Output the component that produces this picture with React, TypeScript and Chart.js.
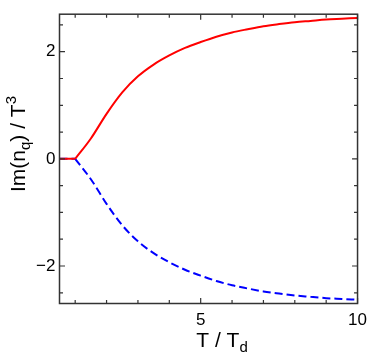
import { useEffect, useRef } from "react";
import { Chart, registerables } from "chart.js";

Chart.register(...registerables);

// T / T_d values below the transition (flat part)
const tLow = [0.5, 1.0];
const flatLow = [0, 0];
// T / T_d values above the transition
const tHigh = [1.0, 1.5, 2.0, 2.5, 3.0, 3.5, 4.0, 4.5, 5.0, 5.5, 6.0, 6.5, 7.0, 7.5, 8.0, 8.5, 9.0, 9.5, 10.0];
const imUpper = [0, 0.38, 0.84, 1.24, 1.54, 1.76, 1.93, 2.07, 2.18, 2.28, 2.36, 2.42, 2.475, 2.515, 2.55, 2.575, 2.6, 2.615, 2.63];
const imLower = [0, -0.38, -0.84, -1.24, -1.54, -1.76, -1.93, -2.07, -2.18, -2.28, -2.36, -2.42, -2.475, -2.515, -2.55, -2.575, -2.6, -2.615, -2.63];

const xTicks = [5, 10];
const yTicks = [-2, 0, 2];
const xMinorTicks = [1, 2, 3, 4, 5, 6, 7, 8, 9, 10];
const yMinorTicks = [-2.5, -2, -1.5, -1, -0.5, 0, 0.5, 1, 1.5, 2, 2.5];

const FONT = "'Liberation Sans', Arial, Helvetica, sans-serif";
const AXIS_COLOR = "#333333";
const RED = "#ff0000";
const BLUE = "#0000ff";

const pts = (xs: number[], ys: number[]) => xs.map((x, i) => ({ x, y: ys[i] }));

const framePlugin = {
  id: "frame",
  afterDraw(chart: any) {
    const { ctx, chartArea } = chart;
    const { left, right, top, bottom } = chartArea;
    const xs = chart.scales.x;
    const ys = chart.scales.y;
    ctx.save();
    ctx.strokeStyle = AXIS_COLOR;
    ctx.lineWidth = 1.5;
    ctx.strokeRect(left, top, right - left, bottom - top);
    ctx.lineWidth = 1.2;
    ctx.beginPath();
    xMinorTicks.forEach((v) => {
      const px = xs.getPixelForValue(v);
      const major = xTicks.includes(v);
      const len = major ? 5.5 : 3.5;
      ctx.moveTo(px, bottom);
      ctx.lineTo(px, bottom - len);
      ctx.moveTo(px, top);
      ctx.lineTo(px, top + len);
    });
    yMinorTicks.forEach((v) => {
      const py = ys.getPixelForValue(v);
      const major = yTicks.includes(v);
      const len = major ? 5.5 : 3.5;
      ctx.moveTo(left, py);
      ctx.lineTo(left + len, py);
      ctx.moveTo(right, py);
      ctx.lineTo(right - len, py);
    });
    ctx.stroke();

    // axis titles
    ctx.fillStyle = "#000";
    ctx.textBaseline = "alphabetic";
    ctx.textAlign = "left";
    const big = `21px ${FONT}`;
    const small = `15px ${FONT}`;

    // x title: T / T_d
    ctx.font = big;
    const xPart = "T / T";
    const wx = ctx.measureText(xPart).width;
    ctx.font = small;
    const wd = ctx.measureText("d").width;
    const xCenter = 222;
    const xStart = xCenter - (wx + wd) / 2;
    const xBase = 347;
    ctx.font = big;
    ctx.fillText(xPart, xStart, xBase);
    ctx.font = small;
    ctx.fillText("d", xStart + wx, xBase + 5);

    // y title: Im(n_q) / T^3
    const parts = [
      { t: "Im(n", f: big, dy: 0 },
      { t: "q", f: small, dy: 5 },
      { t: ") / T", f: big, dy: 0 },
      { t: "3", f: small, dy: -9 },
    ];
    let total = 0;
    const widths = parts.map((p) => {
      ctx.font = p.f;
      const w = ctx.measureText(p.t).width;
      total += w;
      return w;
    });
    const yCenter = 144;
    ctx.translate(25, yCenter + total / 2);
    ctx.rotate(-Math.PI / 2);
    let cx = 0;
    parts.forEach((p, i) => {
      ctx.font = p.f;
      ctx.fillText(p.t, cx, p.dy);
      cx += widths[i];
    });
    ctx.restore();
  },
};

export default function App() {
  const ref = useRef<HTMLCanvasElement | null>(null);

  useEffect(() => {
    document.body.style.margin = "0";
    document.body.style.overflow = "hidden";
    if (!ref.current) return;
    const chart = new Chart(ref.current, {
      type: "line",
      data: {
        datasets: [
          {
            data: pts(tLow, flatLow),
            borderColor: RED,
            borderWidth: 2,
            pointRadius: 0,
            fill: false,
          },
          {
            data: pts(tHigh, imUpper),
            borderColor: RED,
            borderWidth: 2,
            pointRadius: 0,
            cubicInterpolationMode: "monotone",
            fill: false,
          },
          {
            data: pts(tLow, flatLow),
            borderColor: BLUE,
            borderWidth: 2,
            borderDash: [8, 4],
            pointRadius: 0,
            fill: false,
          },
          {
            data: pts(tHigh, imLower),
            borderColor: BLUE,
            borderWidth: 2,
            borderDash: [8, 4],
            pointRadius: 0,
            cubicInterpolationMode: "monotone",
            fill: false,
          },
        ],
      },
      options: {
        animation: false,
        responsive: false,
        maintainAspectRatio: false,
        layout: { padding: { top: 4, right: 14, left: 0, bottom: 0 } },
        plugins: {
          legend: { display: false },
          tooltip: { enabled: false },
        },
        scales: {
          x: {
            type: "linear",
            min: 0.5,
            max: 10,
            afterBuildTicks: (scale: any) => {
              scale.ticks = xTicks.map((v) => ({ value: v }));
            },
            afterFit: (scale: any) => {
              scale.height = 56.5;
            },
            grid: { display: false, drawTicks: false },
            border: { display: false },
            ticks: {
              padding: 7,
              color: "#000",
              font: { family: FONT, size: 17 },
              maxRotation: 0,
              autoSkip: false,
              callback: (v: any) => String(v),
            },
          },
          y: {
            type: "linear",
            min: -2.7,
            max: 2.7,
            afterBuildTicks: (scale: any) => {
              scale.ticks = yTicks.map((v) => ({ value: v }));
            },
            afterFit: (scale: any) => {
              scale.width = 59.5;
            },
            grid: { display: false, drawTicks: false },
            border: { display: false },
            ticks: {
              padding: 4,
              color: "#000",
              font: { family: FONT, size: 17 },
              autoSkip: false,
              callback: (v: any) => (Number(v) < 0 ? "\u2212" + Math.abs(Number(v)) : String(v)),
            },
          },
        },
      },
      plugins: [framePlugin],
    } as any);
    return () => chart.destroy();
  }, []);

  return (
    <div style={{ width: 374, height: 360 }}>
      <canvas ref={ref} width={374} height={360} style={{ display: "block" }} />
    </div>
  );
}
